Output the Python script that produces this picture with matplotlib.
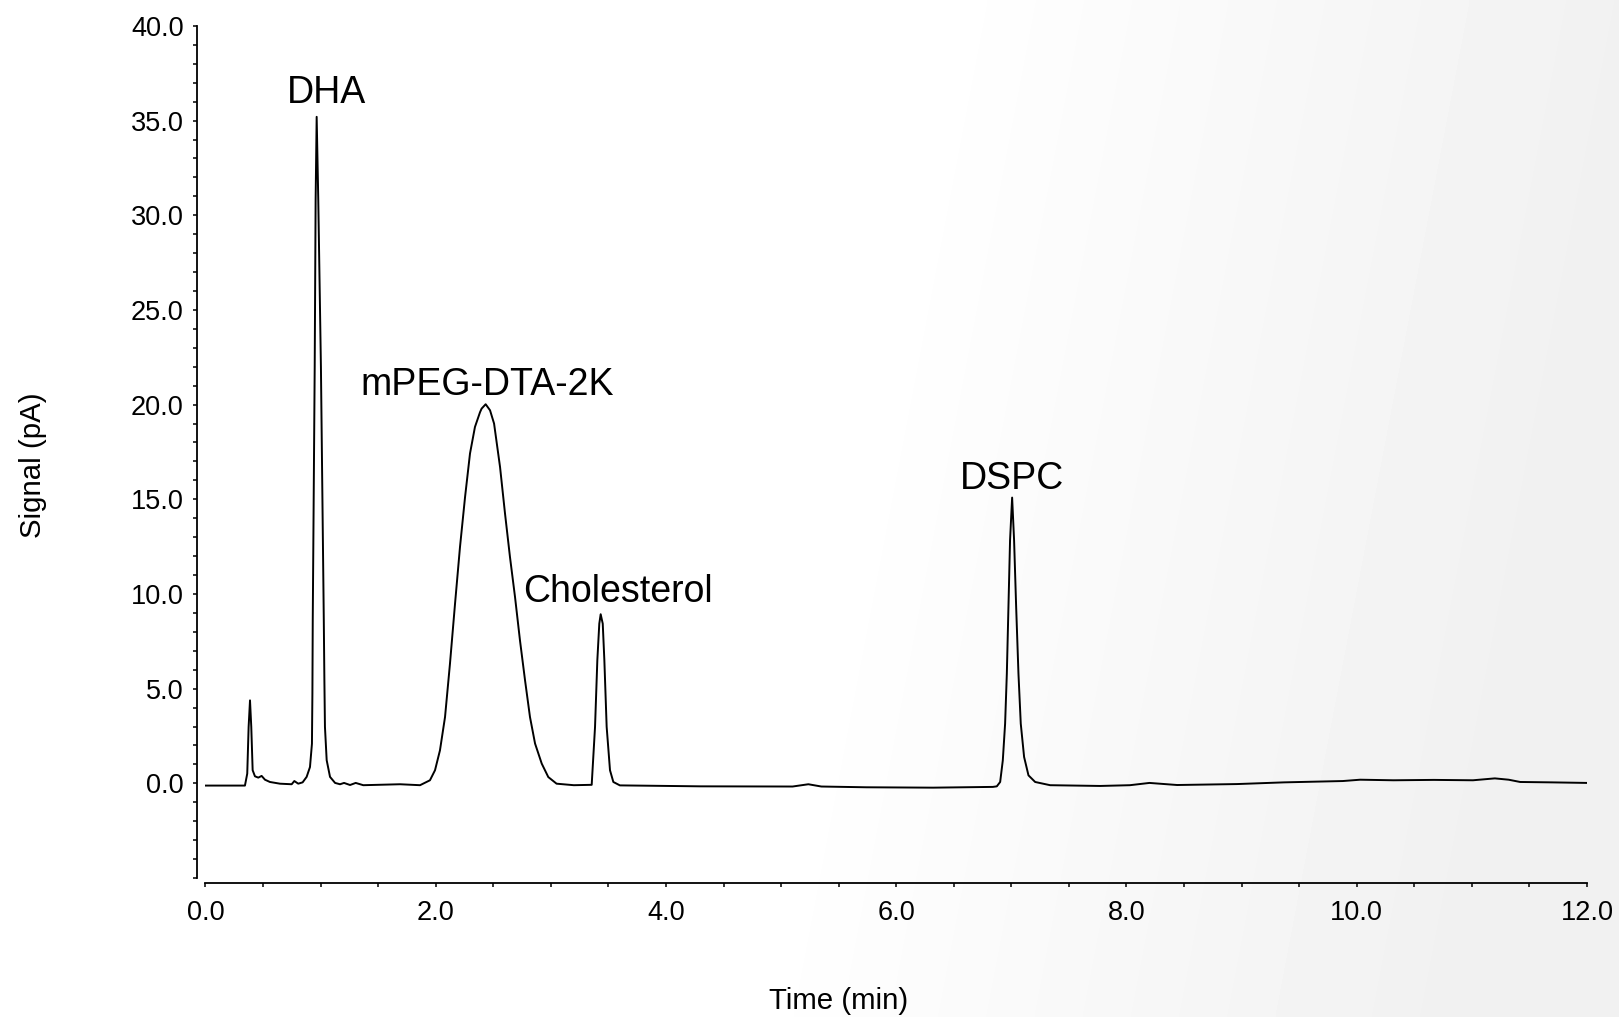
import numpy as np
import matplotlib
matplotlib.use("Agg")
import matplotlib.pyplot as plt
from matplotlib.ticker import MultipleLocator, FuncFormatter

plt.rcParams['font.family'] = ['Liberation Sans', 'DejaVu Sans']

# trace (time in min, signal in pA)
time = [0.00, 0.20, 0.343, 0.363, 0.375, 0.387, 0.398, 0.410, 0.430, 0.459,
        0.488, 0.517, 0.560, 0.647, 0.749, 0.772, 0.806, 0.844, 0.879, 0.908,
        0.925, 0.929, 0.932, 0.949, 0.957, 0.966, 0.980, 1.003, 1.028, 1.033,
        1.038, 1.053, 1.082, 1.126, 1.169, 1.204, 1.256, 1.305, 1.371, 1.69,
        1.864, 1.95, 1.994, 2.037, 2.081, 2.124, 2.168, 2.211, 2.255, 2.298,
        2.341, 2.385, 2.399, 2.434, 2.472, 2.507, 2.559, 2.602, 2.645, 2.689,
        2.732, 2.776, 2.819, 2.863, 2.921, 2.978, 3.05, 3.20, 3.355, 3.384,
        3.404, 3.421, 3.433, 3.451, 3.465, 3.485, 3.514, 3.543, 3.60, 4.30,
        5.10, 5.237, 5.35, 5.74, 6.32, 6.84, 6.874, 6.903, 6.926, 6.946,
        6.961, 6.975, 6.989, 7.007, 7.024, 7.042, 7.062, 7.082, 7.111, 7.149,
        7.207, 7.337, 7.771, 8.03, 8.2, 8.44, 8.96, 9.37, 9.88, 10.03,
        10.32, 10.67, 11.01, 11.2, 11.32, 11.42, 11.69, 12.0]
signal = [-0.12, -0.12, -0.12, 0.51, 2.98, 4.38, 2.98, 0.69, 0.37, 0.30,
          0.39, 0.19, 0.07, -0.02, -0.05, 0.12, -0.02, 0.05, 0.34, 0.86,
          2.09, 4.74, 8.6, 22.0, 30.8, 35.2, 30.8, 22.0, 8.6, 5.5,
          2.98, 1.22, 0.34, 0.02, -0.05, 0.02, -0.09, 0.02, -0.10, -0.05,
          -0.10, 0.16, 0.69, 1.74, 3.50, 6.32, 9.49, 12.48, 15.12, 17.42,
          18.82, 19.6, 19.79, 20.02, 19.70, 19.0, 16.7, 14.25, 11.96, 9.84,
          7.55, 5.44, 3.50, 2.10, 1.04, 0.33, -0.02, -0.10, -0.08, 2.98,
          6.50, 8.43, 8.93, 8.43, 6.50, 2.98, 0.69, 0.07, -0.11, -0.16,
          -0.17, -0.05, -0.17, -0.21, -0.23, -0.19, -0.16, 0.07, 1.21, 3.15,
          5.79, 9.31, 12.84, 15.09, 12.84, 9.31, 5.79, 3.15, 1.39, 0.42,
          0.07, -0.10, -0.14, -0.10, 0.02, -0.09, -0.04, 0.05, 0.12, 0.19,
          0.16, 0.18, 0.16, 0.26, 0.19, 0.07, 0.05, 0.02]

peak_names = ["DHA", "mPEG-DTA-2K", "Cholesterol", "DSPC"]
label_x = [1.05, 2.448, 3.579, 7.01]
label_y = [35.95, 20.5, 9.6, 15.56]

fig = plt.figure(figsize=(16.19, 10.17), dpi=100)

# faint gray gradient towards the lower right of the page
bg = fig.add_axes([0, 0, 1, 1], zorder=-1)
u, v = np.meshgrid(np.linspace(0, 1, 400), np.linspace(0, 1, 250))
g = np.clip((u - 0.58 + 0.12 * (1 - v)) / 0.42, 0, 1)
bg.imshow(1 - 0.055 * g, cmap='gray', vmin=0, vmax=1, aspect='auto', origin='lower',
          extent=[0, 1, 0, 1], interpolation='bilinear')
bg.axis('off')

ax = fig.add_axes([0.1269, 0.1367, 0.8533, 0.8378])
ax.patch.set_alpha(0)
ax.plot(time, signal, color='black', linewidth=1.4)

for name, lx, ly in zip(peak_names, label_x, label_y):
    ax.text(lx, ly, name, ha='center', va='baseline', fontsize=27)

ax.set_xlim(0, 12)
ax.set_ylim(-5, 40)
for side in ['top', 'right']:
    ax.spines[side].set_visible(False)
ax.spines['left'].set_position(('outward', 5.8))
ax.spines['bottom'].set_position(('outward', 3.6))
ax.spines['left'].set_linewidth(1.3)
ax.spines['bottom'].set_linewidth(1.3)

ax.xaxis.set_major_locator(MultipleLocator(2))
ax.xaxis.set_minor_locator(MultipleLocator(0.5))
ax.yaxis.set_major_locator(MultipleLocator(5))
ax.yaxis.set_minor_locator(MultipleLocator(1))
ax.xaxis.set_major_formatter(FuncFormatter(lambda x, p: f"{x:.1f}"))
ax.yaxis.set_major_formatter(FuncFormatter(lambda y, p: "" if y < 0 else f"{y:.1f}"))
ax.tick_params(which='both', direction='out', length=3, width=1.1, colors='black',
               labelsize=19.5)
ax.tick_params(axis='y', pad=7)
ax.tick_params(axis='x', pad=9)

fig.text(839 / 1619, 1 - 1001 / 1017, "Time (min)", ha='center', va='center', fontsize=21.2)
fig.text(33 / 1619, 1 - 465 / 1017, "Signal (pA)", ha='center', va='center',
         rotation=90, fontsize=21.2)

fig.savefig("out.png", dpi=100)
